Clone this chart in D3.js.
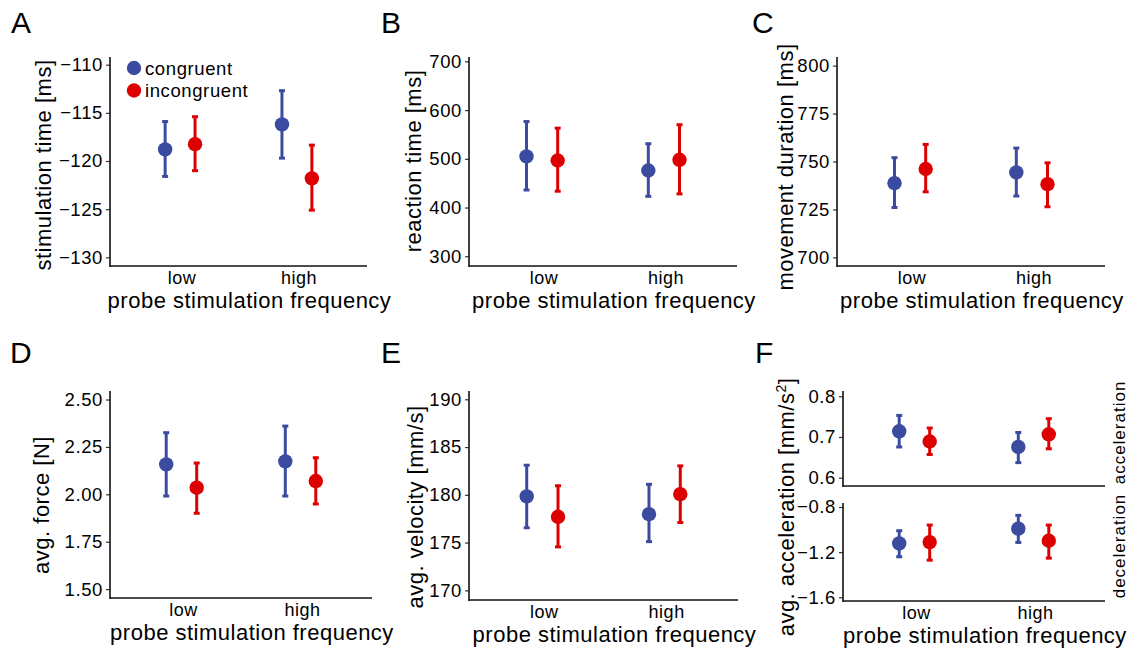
<!DOCTYPE html>
<html>

<head>
    <meta charset="utf-8">
    <title>Probe stimulation panels</title>
    <script src="https://cdnjs.cloudflare.com/ajax/libs/d3/7.8.5/d3.min.js"></script>
    <style>
        body { margin: 0; background: #fff; }
        text { font-family: "Liberation Sans", Arial, sans-serif; fill: #000; }
    </style>
</head>

<body>
    <script>
        var W = 1135, H = 650;

        // categories
        var groups = ["low", "high"];
        var conditions = ["congruent", "incongruent"];
        var colors = ["#3a4ba0", "#dd0000"];

        // values are ordered: low-congruent, low-incongruent, high-congruent, high-incongruent
        var stimMean = [-118.8, -118.25, -116.2, -121.8];
        var stimLower = [-121.6, -121.0, -119.7, -125.1];
        var stimUpper = [-115.9, -115.4, -112.7, -118.35];
        var stimTicks = [-130, -125, -120, -115, -110];

        var rtMean = [505, 496.5, 476, 498];
        var rtLower = [436, 433.5, 423, 428];
        var rtUpper = [576.5, 563, 531, 570];
        var rtTicks = [300, 400, 500, 600, 700];

        var mdMean = [738.7, 746.1, 744.3, 738.2];
        var mdLower = [726, 734.2, 732, 726.4];
        var mdUpper = [752, 758.9, 757, 749.3];
        var mdTicks = [700, 725, 750, 775, 800];

        var forceMean = [2.158, 2.035, 2.174, 2.07];
        var forceLower = [1.991, 1.90, 1.991, 1.949];
        var forceUpper = [2.325, 2.165, 2.36, 2.193];
        var forceTicks = [1.5, 1.75, 2.0, 2.25, 2.5];

        var velMean = [179.83, 177.7, 177.98, 180.07];
        var velLower = [176.55, 174.55, 175.1, 177.1];
        var velUpper = [183.1, 180.95, 181.1, 183.03];
        var velTicks = [170, 175, 180, 185, 190];

        var accMean = [0.714, 0.689, 0.6755, 0.7066];
        var accLower = [0.6755, 0.657, 0.637, 0.671];
        var accUpper = [0.753, 0.722, 0.711, 0.745];
        var accTicks = [0.6, 0.7, 0.8];

        var decMean = [-1.123, -1.111, -0.992, -1.099];
        var decLower = [-1.241, -1.271, -1.114, -1.253];
        var decUpper = [-1.01, -0.96, -0.874, -0.96];
        var decTicks = [-1.6, -1.2, -0.8];

        function rows(mean, lower, upper) {
            var out = [];
            groups.forEach(function(g, gi) {
                conditions.forEach(function(c, ci) {
                    var i = gi * 2 + ci;
                    out.push({ group: g, cond: ci, mean: mean[i], lo: lower[i], hi: upper[i] });
                });
            });
            return out;
        }

        var panels = [
            { letter: "A", lx: 11, ly: 33, x0: 110, x1: 367, y0: 57, y1: 266, domain: [-130.9, -109.2],
              ticks: stimTicks, fmt: "d", data: rows(stimMean, stimLower, stimUpper),
              title: "stimulation time [ms]", tx: 51, ty: 165, legend: true },
            { letter: "B", lx: 381, ly: 33, x0: 469, x1: 737, y0: 57, y1: 266, domain: [280, 709],
              ticks: rtTicks, fmt: "d", data: rows(rtMean, rtLower, rtUpper),
              title: "reaction time [ms]", tx: 421, ty: 161 },
            { letter: "C", lx: 752, ly: 33, x0: 837, x1: 1105, y0: 57, y1: 266, domain: [695.5, 804.5],
              ticks: mdTicks, fmt: "d", data: rows(mdMean, mdLower, mdUpper),
              title: "movement duration [ms]", tx: 793, ty: 167 },
            { letter: "D", lx: 10, ly: 363, x0: 110, x1: 372, y0: 391, y1: 598, domain: [1.453, 2.545],
              ticks: forceTicks, fmt: ".2f", data: rows(forceMean, forceLower, forceUpper),
              title: "avg. force [N]", tx: 49, ty: 505 },
            { letter: "E", lx: 381, ly: 363, x0: 469, x1: 738, y0: 391, y1: 600, domain: [168.99, 190.87],
              ticks: velTicks, fmt: "d", data: rows(velMean, velLower, velUpper),
              title: "avg. velocity [mm/s]", tx: 423, ty: 507 },
            { letter: "F", lx: 755, ly: 363, x0: 843, x1: 1105, y0: 391, y1: 486, domain: [0.5796, 0.813],
              ticks: accTicks, fmt: ".1f", data: rows(accMean, accLower, accUpper),
              noXLabels: true, strip: "acceleration" },
            { x0: 843, x1: 1105, y0: 503, y1: 601, domain: [-1.633, -0.7644],
              ticks: decTicks, fmt: ".1f", data: rows(decMean, decLower, decUpper),
              strip: "deceleration", title: "avg. acceleration [mm/s", sup: "2", tx: 794, ty: 507 }
        ];

        var svg = d3.select("body").append("svg")
            .attr("width", W)
            .attr("height", H);

        svg.append("rect").attr("width", W).attr("height", H).attr("fill", "#fff");

        panels.forEach(function(p) {
            var g = svg.append("g");

            var x = d3.scalePoint().domain(groups).range([p.x0, p.x1]).padding(0.6);
            var y = d3.scaleLinear().domain(p.domain).range([p.y1, p.y0]);
            var dodge = x.step() * 0.128;

            // y axis
            var yAxis = g.append("g")
                .attr("transform", "translate(" + p.x0 + ",0)")
                .call(d3.axisLeft(y).tickValues(p.ticks).tickFormat(d3.format(p.fmt))
                    .tickSize(4).tickSizeOuter(0).tickPadding(3));
            yAxis.select(".domain").remove();
            yAxis.selectAll(".tick line").attr("stroke", "#333").attr("stroke-width", 1.2);
            yAxis.selectAll(".tick text")
                .attr("font-size", 18.5)
                .attr("font-family", "Liberation Sans, Arial, sans-serif")
                .style("letter-spacing", "0.6px")
                .attr("fill", "#000");

            g.append("line")
                .attr("x1", p.x0).attr("x2", p.x0)
                .attr("y1", p.y0).attr("y2", p.y1 + 1)
                .attr("stroke", "#111").attr("stroke-width", 1.6);
            g.append("line")
                .attr("x1", p.x0).attr("x2", p.x1)
                .attr("y1", p.y1).attr("y2", p.y1)
                .attr("stroke", "#111").attr("stroke-width", 1.6);

            if (!p.noXLabels) {
                g.selectAll(".xlab").data(groups).enter().append("text")
                    .attr("x", function(d) { return x(d) + 2; })
                    .attr("y", p.y1 + 18)
                    .attr("text-anchor", "middle")
                    .attr("font-size", 18)
                    .style("letter-spacing", "0.5px")
                    .text(function(d) { return d; });
                g.append("text")
                    .attr("x", (p.x0 + p.x1) / 2 + 11)
                    .attr("y", p.y1 + 42)
                    .attr("text-anchor", "middle")
                    .attr("font-size", 22)
                    .style("letter-spacing", "0.5px")
                    .text("probe stimulation frequency");
            }

            if (p.title) {
                var t = g.append("text")
                    .attr("transform", "translate(" + p.tx + "," + p.ty + ") rotate(-90)")
                    .attr("text-anchor", "middle")
                    .attr("font-size", 22)
                    .style("letter-spacing", "0.5px");
                t.append("tspan").text(p.title);
                if (p.sup) {
                    t.append("tspan").attr("font-size", 14).attr("dy", -8).text(p.sup);
                    t.append("tspan").attr("dy", 8).text("]");
                }
            }

            if (p.strip) {
                g.append("text")
                    .attr("transform", "translate(1125," + ((p.y0 + p.y1) / 2 - 6) + ") rotate(-90)")
                    .attr("text-anchor", "middle")
                    .attr("font-size", 17)
                    .style("letter-spacing", "1px")
                    .text(p.strip);
            }

            if (p.letter) {
                svg.append("text")
                    .attr("x", p.lx).attr("y", p.ly)
                    .attr("font-size", 30)
                    .text(p.letter);
            }

            var cx = function(d) { return x(d.group) + (d.cond === 0 ? -dodge : dodge); };

            var bars = g.selectAll(".err").data(p.data).enter().append("g");
            bars.append("line")
                .attr("x1", cx).attr("x2", cx)
                .attr("y1", function(d) { return y(d.lo); })
                .attr("y2", function(d) { return y(d.hi); })
                .attr("stroke", function(d) { return colors[d.cond]; })
                .attr("stroke-width", 3);
            ["lo", "hi"].forEach(function(k) {
                bars.append("line")
                    .attr("x1", function(d) { return cx(d) - 3; })
                    .attr("x2", function(d) { return cx(d) + 3; })
                    .attr("y1", function(d) { return y(d[k]); })
                    .attr("y2", function(d) { return y(d[k]); })
                    .attr("stroke", function(d) { return colors[d.cond]; })
                    .attr("stroke-width", 3);
            });
            bars.append("circle")
                .attr("cx", cx)
                .attr("cy", function(d) { return y(d.mean); })
                .attr("r", 7.2)
                .attr("fill", function(d) { return colors[d.cond]; });

            if (p.legend) {
                var leg = g.selectAll(".leg").data(conditions).enter().append("g")
                    .attr("transform", function(d, i) { return "translate(134," + (68 + i * 22.5) + ")"; });
                leg.append("circle").attr("r", 7.2)
                    .attr("fill", function(d, i) { return colors[i]; });
                leg.append("text")
                    .attr("x", 11).attr("y", 6.5)
                    .attr("font-size", 18.5)
                    .style("letter-spacing", "0.6px")
                    .text(function(d) { return d; });
            }
        });
    </script>
</body>

</html>
